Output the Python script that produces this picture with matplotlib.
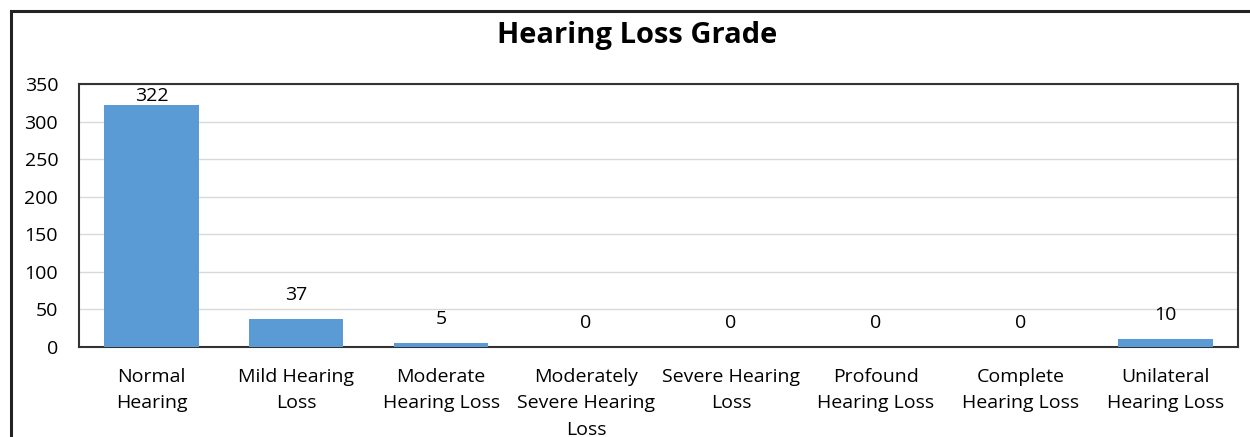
import matplotlib.pyplot as plt
from matplotlib.patches import Rectangle

# data
categories = ["Normal\nHearing", "Mild Hearing\nLoss", "Moderate\nHearing Loss",
              "Moderately\nSevere Hearing\nLoss", "Severe Hearing\nLoss",
              "Profound\nHearing Loss", "Complete\nHearing Loss",
              "Unilateral\nHearing Loss"]
counts = [322, 37, 5, 0, 0, 0, 0, 10]
y_ticks = [0, 50, 100, 150, 200, 250, 300, 350]

plt.rcParams['font.family'] = ['Open Sans', 'DejaVu Sans']

fig = plt.figure(figsize=(12.5, 4.37), dpi=100)
ax = fig.add_axes([79 / 1250, 1 - 347 / 437, (1238 - 79) / 1250, (347 - 84) / 437])

ymax = 350
x = list(range(len(categories)))
ax.bar(x, counts, width=0.65, color='#5B9BD5', zorder=3)
# labels sit above the bars, pushed down to stay inside the plot area (like Excel)
for xi, v in zip(x, counts):
    ax.text(xi, min(v + 20, ymax - 28), str(v), ha='center', va='bottom',
            fontsize=14, color='#000000')

ax.set_xlim(-0.5, len(categories) - 0.5)
ax.set_ylim(0, ymax)
ax.set_yticks(y_ticks)
ax.set_yticklabels([str(t) for t in y_ticks], fontsize=14)
ax.set_xticks(x)
ax.set_xticklabels(categories, fontsize=14, linespacing=1.6)
ax.tick_params(axis='y', length=0, pad=15)
ax.tick_params(axis='x', length=0, pad=15)
ax.yaxis.grid(True, color='#D9D9D9', linewidth=1, zorder=0)
for s in ax.spines.values():
    s.set_color('#333333')
    s.set_linewidth(1.5)

fig.text(637 / 1250, 1 - 35 / 437, "Hearing Loss Grade", ha='center', va='center',
         fontsize=21, fontweight='bold')

# outer chart border
fig.patches.append(Rectangle((11 / 1250, -0.1), 1.2, 1 - 11 / 437 + 0.1,
                             transform=fig.transFigure, fill=False,
                             edgecolor='#222222', linewidth=2.2))

fig.savefig('out.png', dpi=100)
